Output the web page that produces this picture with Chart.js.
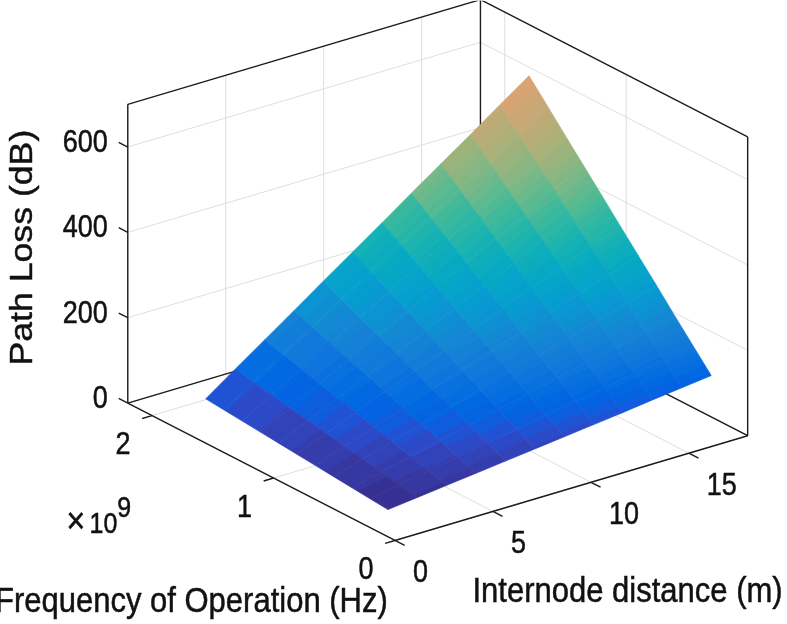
<!DOCTYPE html>
<html>
<head>
<meta charset="utf-8">
<script src="https://cdn.jsdelivr.net/npm/chart.js@4.4.1/dist/chart.umd.min.js"></script>
<style>
  html, body { margin: 0; padding: 0; background: #ffffff; }
  #wrap { width: 787px; height: 624px; position: relative; }
</style>
</head>
<body>
<div id="wrap"><canvas id="c"></canvas></div>
<script>
// ---------------- DATA ----------------
// Internode distance (m) – surface grid columns
const distances = [1.5, 3, 4.5, 6, 7.5, 9, 10.5, 12, 13.5, 15, 16.5, 18];
// Frequency of operation (Hz) – surface grid rows
const frequencies = [0.3e9, 0.45e9, 0.6e9, 0.75e9, 0.9e9, 1.05e9, 1.2e9, 1.35e9, 1.5e9, 1.65e9, 1.8e9];
// Path loss (dB), one row per frequency, one column per distance
const pathLoss = [
  [  8,  16,  24,  32,  40,  48,  56,  64,  72,  81,  89,  97],
  [ 12,  24,  36,  48,  60,  72,  85,  97, 109, 121, 133, 145],
  [ 16,  32,  48,  64,  81,  97, 113, 129, 145, 161, 177, 193],
  [ 20,  40,  60,  81, 101, 121, 141, 161, 181, 201, 222, 242],
  [ 24,  48,  72,  97, 121, 145, 169, 193, 217, 242, 266, 290],
  [ 28,  56,  85, 113, 141, 169, 197, 226, 254, 282, 310, 338],
  [ 32,  64,  97, 129, 161, 193, 226, 258, 290, 322, 354, 387],
  [ 36,  72, 109, 145, 181, 217, 254, 290, 326, 362, 399, 435],
  [ 40,  81, 121, 161, 201, 242, 282, 322, 362, 403, 443, 483],
  [ 44,  89, 133, 177, 222, 266, 310, 354, 399, 443, 487, 532],
  [ 48,  97, 145, 193, 242, 290, 338, 387, 435, 483, 532, 580]
];
// Axis limits
const distLimits = [0, 18];
const freqLimits = [0, 2.2e9];
const lossLimits = [0, 700];
// Ticks
const distTicks = [0, 5, 10, 15];
const distTickLabels = ['0', '5', '10', '15'];
const freqTicks = [0, 1e9, 2e9];
const freqTickLabels = ['0', '1', '2'];
const lossTicks = [0, 200, 400, 600];
const lossTickLabels = ['0', '200', '400', '600'];
const freqExponent = '9';
// Titles
const distTitle = 'Internode distance (m)';
const freqTitle = 'Frequency of Operation (Hz)';
const lossTitle = 'Path Loss (dB)';

// ---------------- VIEW (layout) ----------------
const VIEW = { ox: 395, oy: 541, dVec: [353.3, -105], fVec: [-267.7, -137.7], zLen: -299.4 };
const W = 787, H = 624;
const TEXT_STRETCH = 1.15;
const FONT = '"Liberation Sans", Arial, Helvetica, sans-serif';
const TEXT_COLOR = '#111111';
const AXIS_COLOR = '#1c1c1c';
const GRID_COLOR = '#dedede';

function proj(d, f, z) {
  const u = (d - distLimits[0]) / (distLimits[1] - distLimits[0]);
  const v = (f - freqLimits[0]) / (freqLimits[1] - freqLimits[0]);
  const w = (z - lossLimits[0]) / (lossLimits[1] - lossLimits[0]);
  return {
    x: VIEW.ox + u * VIEW.dVec[0] + v * VIEW.fVec[0],
    y: VIEW.oy + u * VIEW.dVec[1] + v * VIEW.fVec[1] + w * VIEW.zLen
  };
}

// Parula (MATLAB default colormap, 64 entries)
const PARULA = [
[0.2081,0.1663,0.5292],[0.2116,0.1898,0.5777],[0.2123,0.2138,0.6270],[0.2081,0.2386,0.6771],
[0.1959,0.2645,0.7279],[0.1707,0.2919,0.7792],[0.1253,0.3242,0.8303],[0.0591,0.3598,0.8683],
[0.0117,0.3875,0.8820],[0.0060,0.4086,0.8828],[0.0165,0.4266,0.8786],[0.0329,0.4430,0.8720],
[0.0498,0.4586,0.8641],[0.0629,0.4737,0.8554],[0.0723,0.4887,0.8467],[0.0779,0.5040,0.8384],
[0.0793,0.5200,0.8312],[0.0749,0.5375,0.8263],[0.0641,0.5570,0.8240],[0.0488,0.5772,0.8228],
[0.0343,0.5966,0.8199],[0.0265,0.6137,0.8135],[0.0239,0.6287,0.8038],[0.0231,0.6418,0.7913],
[0.0228,0.6535,0.7768],[0.0267,0.6642,0.7607],[0.0384,0.6743,0.7436],[0.0590,0.6838,0.7254],
[0.0843,0.6928,0.7062],[0.1133,0.7015,0.6859],[0.1453,0.7098,0.6646],[0.1801,0.7177,0.6424],
[0.2178,0.7250,0.6193],[0.2586,0.7317,0.5954],[0.3022,0.7376,0.5712],[0.3482,0.7424,0.5473],
[0.3953,0.7459,0.5244],[0.4420,0.7481,0.5033],[0.4871,0.7491,0.4840],[0.5300,0.7491,0.4661],
[0.5709,0.7485,0.4494],[0.6099,0.7473,0.4337],[0.6473,0.7456,0.4188],[0.6834,0.7435,0.4044],
[0.7184,0.7411,0.3905],[0.7525,0.7384,0.3768],[0.7858,0.7356,0.3633],[0.8185,0.7327,0.3498],
[0.8507,0.7299,0.3360],[0.8824,0.7274,0.3217],[0.9139,0.7258,0.3063],[0.9450,0.7261,0.2886],
[0.9739,0.7314,0.2666],[0.9938,0.7455,0.2403],[0.9990,0.7653,0.2164],[0.9955,0.7861,0.1967],
[0.9880,0.8066,0.1794],[0.9789,0.8271,0.1633],[0.9697,0.8481,0.1475],[0.9626,0.8705,0.1309],
[0.9589,0.8949,0.1132],[0.9598,0.9218,0.0948],[0.9661,0.9514,0.0755],[0.9763,0.9831,0.0538]];
const HATCH = [175, 105, 205];
const cLo = lossLimits[0], cHi = lossLimits[1];

function idxColor(k) {
  const idx = Math.max(0, Math.min(63, k));
  const t = (idx + 0.5) / 64;
  const c = PARULA[idx].map(v => v * 255);
  const b = Math.max(0, Math.min(1, (t - 0.5) / 0.33)) * 0.32;
  const m = c.map((v, n) => Math.round(v * (1 - b) + HATCH[n] * b));
  return 'rgb(' + m.join(',') + ')';
}
function levelIndex(z) { return Math.floor((z - cLo) / (cHi - cLo) * 64); }

// stepped gradient (like flat faceted shading on a fine mesh) for one cell
function cellGradient(chart, cell) {
  const ka = levelIndex(cell.za), kb = levelIndex(cell.zb);
  const sx = chart.scales && chart.scales.x, sy = chart.scales && chart.scales.y;
  if (!sx || !sy) return idxColor(ka);
  const P = p => ({ x: sx.getPixelForValue(p.x), y: sy.getPixelForValue(p.y) });
  const a0 = P(cell.pts[0]), a1 = P(cell.pts[1]), b1 = P(cell.pts[2]), b0 = P(cell.pts[3]);
  const pa = { x: (a0.x + a1.x) / 2, y: (a0.y + a1.y) / 2 };
  const pb = { x: (b0.x + b1.x) / 2, y: (b0.y + b1.y) / 2 };
  let ex = a1.x - a0.x, ey = a1.y - a0.y;
  const el = Math.hypot(ex, ey);
  if (!isFinite(el) || el === 0 || !isFinite(pa.x) || !isFinite(pb.x) || !isFinite(pa.y) || !isFinite(pb.y)) {
    return idxColor(ka);
  }
  ex /= el; ey /= el;
  const nx = -ey, ny = ex;
  const h = (pb.x - pa.x) * nx + (pb.y - pa.y) * ny;
  if (!isFinite(h) || Math.abs(h) < 1e-6) return idxColor(ka);
  const g = chart.ctx.createLinearGradient(pa.x, pa.y, pa.x + h * nx, pa.y + h * ny);
  const za = cell.za, zb = cell.zb;
  g.addColorStop(0, idxColor(ka));
  for (let k = ka + 1; k <= kb; k++) {
    const lvl = cLo + k / 64 * (cHi - cLo);
    const off = Math.max(0, Math.min(1, (lvl - za) / (zb - za)));
    g.addColorStop(off, idxColor(k - 1));
    g.addColorStop(off, idxColor(k));
  }
  g.addColorStop(1, idxColor(kb));
  return g;
}

// ---------------- DATASETS ----------------
const datasets = [];
function addLine(a, b, color, width, order) {
  datasets.push({
    data: [proj(a[0], a[1], a[2]), proj(b[0], b[1], b[2])],
    borderColor: color, borderWidth: width, pointRadius: 0, fill: false,
    tension: 0, order: order, borderCapStyle: 'butt'
  });
}
const D0 = distLimits[0], D1 = distLimits[1];
const F0 = freqLimits[0], F1 = freqLimits[1];
const Z0 = lossLimits[0], Z1 = lossLimits[1];

// grid lines (order 4 = drawn first)
distTicks.forEach(d => {
  addLine([d, F1, Z0], [d, F1, Z1], GRID_COLOR, 1, 4);
  addLine([d, F0, Z0], [d, F1, Z0], GRID_COLOR, 1, 4);
});
freqTicks.forEach(f => {
  addLine([D1, f, Z0], [D1, f, Z1], GRID_COLOR, 1, 4);
  addLine([D0, f, Z0], [D1, f, Z0], GRID_COLOR, 1, 4);
});
lossTicks.forEach(z => {
  addLine([D0, F1, z], [D1, F1, z], GRID_COLOR, 1, 4);
  addLine([D1, F0, z], [D1, F1, z], GRID_COLOR, 1, 4);
});
// back box edges (order 3)
addLine([D0, F1, Z0], [D0, F1, Z1], AXIS_COLOR, 1.4, 3);
addLine([D1, F1, Z0], [D1, F1, Z1], AXIS_COLOR, 1.4, 3);
addLine([D1, F0, Z0], [D1, F0, Z1], AXIS_COLOR, 1.4, 3);
addLine([D0, F1, Z1], [D1, F1, Z1], AXIS_COLOR, 1.4, 3);
addLine([D1, F1, Z1], [D1, F0, Z1], AXIS_COLOR, 1.4, 3);
addLine([D0, F1, Z0], [D1, F1, Z0], AXIS_COLOR, 1.4, 3);
addLine([D1, F0, Z0], [D1, F1, Z0], AXIS_COLOR, 1.4, 3);

// surface cells (order 2)
for (let i = 0; i < frequencies.length - 1; i++) {
  for (let j = 0; j < distances.length - 1; j++) {
    const c = [
      [distances[j], frequencies[i], pathLoss[i][j]],
      [distances[j + 1], frequencies[i], pathLoss[i][j + 1]],
      [distances[j + 1], frequencies[i + 1], pathLoss[i + 1][j + 1]],
      [distances[j], frequencies[i + 1], pathLoss[i + 1][j]]
    ];
    const pts = c.map(p => proj(p[0], p[1], p[2]));
    const cell = {
      pts: pts,
      za: (pathLoss[i][j] + pathLoss[i][j + 1]) / 2,
      zb: (pathLoss[i + 1][j] + pathLoss[i + 1][j + 1]) / 2
    };
    const fillFn = ctx => cellGradient(ctx.chart, cell);
    datasets.push({
      data: pts.concat([pts[0]]), borderColor: fillFn, backgroundColor: fillFn, borderWidth: 0.7,
      pointRadius: 0, fill: 'shape', tension: 0, order: 2, borderJoinStyle: 'round'
    });
  }
}

// front axis lines and tick marks (order 0 = on top)
addLine([D0, F0, Z0], [D0, F1, Z0], AXIS_COLOR, 1.4, 0);
addLine([D0, F0, Z0], [D1, F0, Z0], AXIS_COLOR, 1.4, 0);
const zTickLen = 0.034 * (F1 - F0);
const fTickLen = 0.028 * (D1 - D0);
const dTickLen = 0.036 * (F1 - F0);
lossTicks.forEach(z => addLine([D0, F1, z], [D0, F1 + zTickLen, z], AXIS_COLOR, 1.4, 0));
freqTicks.forEach(f => addLine([D0, f, Z0], [D0 - fTickLen, f, Z0], AXIS_COLOR, 1.4, 0));
distTicks.forEach(d => addLine([d, F0, Z0], [d, F0 - dTickLen, Z0], AXIS_COLOR, 1.4, 0));

// ---------------- TEXT PLUGIN ----------------
function drawText(chart, str, px, py, font, align, baseline, rot) {
  const ctx = chart.ctx;
  const sx = chart.scales.x, sy = chart.scales.y;
  ctx.save();
  ctx.translate(sx.getPixelForValue(px), sy.getPixelForValue(py));
  ctx.scale(1, TEXT_STRETCH);
  if (rot) ctx.rotate(rot);
  ctx.font = font;
  ctx.textAlign = align;
  ctx.textBaseline = baseline;
  ctx.fillStyle = TEXT_COLOR;
  ctx.strokeStyle = TEXT_COLOR;
  ctx.lineWidth = 0.45;
  ctx.fillText(str, 0, 0);
  ctx.strokeText(str, 0, 0);
  ctx.restore();
}
const labelsPlugin = {
  id: 'labels3d',
  afterDraw(chart) {
    const tickFont = '27px ' + FONT;
    const titleFont = '31px ' + FONT;
    lossTicks.forEach((z, k) => {
      const p = proj(D0, F1, z);
      drawText(chart, lossTickLabels[k], p.x - 20, p.y - 3.5, tickFont, 'right', 'middle');
    });
    freqTicks.forEach((f, k) => {
      const p = proj(D0, f, Z0);
      drawText(chart, freqTickLabels[k], p.x - 29, p.y + 30, tickFont, 'center', 'middle');
    });
    distTicks.forEach((d, k) => {
      const p = proj(d, F0, Z0);
      drawText(chart, distTickLabels[k], p.x + 18, p.y + 33, tickFont, 'left', 'middle');
    });
    // exponent label (x10^9)
    const timesFont = '32px ' + FONT;
    const expFont = '25px ' + FONT;
    chart.ctx.font = expFont;
    const wTen = chart.ctx.measureText('10').width;
    drawText(chart, '\u00d7', 66, 533, timesFont, 'left', 'alphabetic');
    drawText(chart, '10', 89, 533, expFont, 'left', 'alphabetic');
    drawText(chart, freqExponent, 89 + wTen, 517, expFont, 'left', 'alphabetic');
    // titles
    drawText(chart, freqTitle, 191, 613, titleFont, 'center', 'alphabetic');
    drawText(chart, distTitle, 628, 603, titleFont, 'center', 'alphabetic');
    drawText(chart, lossTitle, 31, 247.5, titleFont, 'center', 'alphabetic', -Math.PI / 2);
  }
};

const chart = new Chart(document.getElementById('c'), {
  type: 'line',
  data: { datasets: datasets },
  options: {
    responsive: true,
    maintainAspectRatio: false,
    animation: false,
    events: [],
    layout: { padding: 0 },
    scales: {
      x: { type: 'linear', min: 0, max: W, display: false },
      y: { type: 'linear', min: 0, max: H, reverse: true, display: false }
    },
    plugins: { legend: { display: false }, tooltip: { enabled: false } }
  },
  plugins: [labelsPlugin]
});
chart.update();
</script>
</body>
</html>
